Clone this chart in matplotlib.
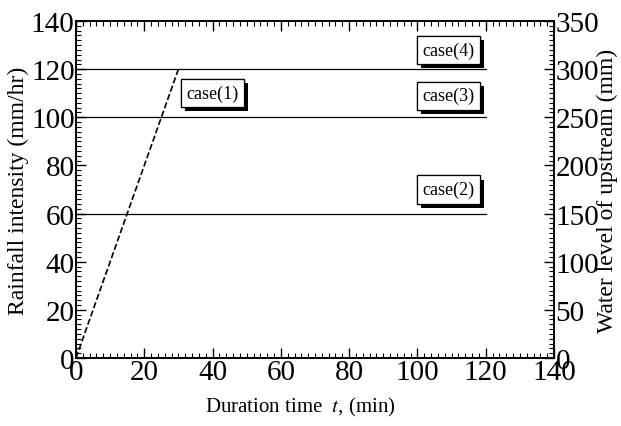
import numpy as np
import matplotlib.pyplot as plt
import matplotlib.patheffects as pe
from matplotlib.ticker import MultipleLocator

plt.rcParams['font.family'] = ['Liberation Serif', 'DejaVu Serif']
plt.rcParams['mathtext.fontset'] = 'stix'

# rainfall cases (constant intensity up to 120 min)
case_t = [0, 120]
case_levels = [60, 100, 120]
# ramp case
ramp_t = [0, 30]
ramp_r = [0, 120]

labels = ['case(1)', 'case(2)', 'case(3)', 'case(4)']
label_x = [40, 109, 109, 109]
label_y = [110, 70, 109, 128]

fig = plt.figure(figsize=(6.21, 4.27), dpi=100)
ax = fig.add_axes([76/621, 1-359/427, (554-76)/621, (359-22)/427])

for lv in case_levels:
    ax.plot(case_t, [lv, lv], 'k-', lw=0.9)
ax.plot(ramp_t, ramp_r, 'k--', lw=1.2)

for s, x, y in zip(labels, label_x, label_y):
    t = ax.text(x, y, s, fontsize=13, ha='center', va='center',
                bbox=dict(boxstyle='square,pad=0.3', fc='white', ec='k', lw=0.9))
    t.get_bbox_patch().set_path_effects(
        [pe.withSimplePatchShadow(offset=(3, -3), shadow_rgbFace='k', alpha=1), pe.Normal()])

ax.set_xlim(0, 140)
ax.set_ylim(0, 140)
ax.xaxis.set_major_locator(MultipleLocator(20))
ax.xaxis.set_minor_locator(MultipleLocator(2))
ax.yaxis.set_major_locator(MultipleLocator(20))
ax.yaxis.set_minor_locator(MultipleLocator(2))
ax.tick_params(which='both', direction='in', top=True, right=False, labelsize=21, pad=1)
ax.tick_params(which='major', length=7, width=1)
ax.tick_params(which='minor', length=3.5, width=0.8)
ax.set_xlabel('Duration time  $t$, (min)', fontsize=15)
ax.xaxis.set_label_coords(0.469, -0.11)
ax.set_ylabel('Rainfall intensity (mm/hr)', fontsize=17, labelpad=1)

ax2 = ax.twinx()
ax2.set_ylim(0, 350)
ax2.yaxis.set_major_locator(MultipleLocator(50))
ax2.yaxis.set_minor_locator(MultipleLocator(5))
ax2.tick_params(which='both', direction='in', labelsize=21, pad=1)
ax2.tick_params(which='major', length=7, width=1)
ax2.tick_params(which='minor', length=3.5, width=0.8)
ax2.set_ylabel('Water level of upstream (mm)', fontsize=17, labelpad=-2)

for a in (ax, ax2):
    for sp in a.spines.values():
        sp.set_linewidth(1.2)

fig.savefig('out.png', dpi=100)
